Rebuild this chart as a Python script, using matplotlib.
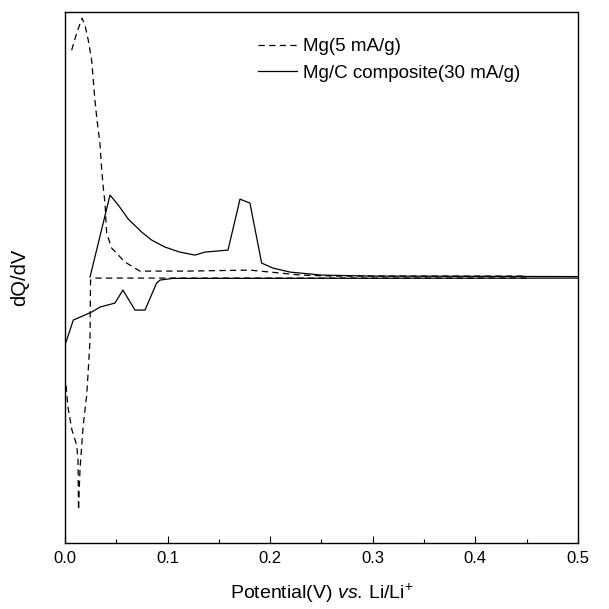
import numpy as np
import matplotlib.pyplot as plt
from matplotlib.ticker import MultipleLocator

plt.rcParams['font.family'] = ['Liberation Sans', 'DejaVu Sans']
plt.rcParams['mathtext.fontset'] = 'custom'
plt.rcParams['mathtext.rm'] = 'Liberation Sans'
plt.rcParams['mathtext.it'] = 'Liberation Sans:italic'

# Mg (5 mA/g), dashed: charge branch (above zero) and discharge branch (below)
mg_chg_x = [0.0065, 0.0114, 0.0166, 0.0195, 0.0227, 0.026, 0.0276, 0.0292, 0.0312,
            0.0341, 0.0358, 0.0373, 0.039, 0.0406, 0.0455, 0.0585, 0.073,
            0.12, 0.18, 0.20, 0.23, 0.26, 0.45]
mg_chg_y = [227, 244, 259, 252, 237, 217, 197, 177, 157,
            134, 107, 90, 74, 44, 29, 15, 6,
            6, 7, 5, 2, 1, 1]
mg_dis_x = [0.45, 0.03, 0.0249, 0.0244, 0.0224, 0.0212, 0.0178, 0.0162, 0.0146,
            0.0132, 0.0127, 0.0114, 0.0068, 0.0029, 0.001]
mg_dis_y = [-1, -1, -3, -63, -98, -118, -148, -170, -193,
            -233, -183, -168, -153, -130, -108]

# Mg/C composite (30 mA/g), solid
mc_chg_x = [0.0244, 0.0439, 0.052, 0.0617, 0.0748, 0.0845, 0.0975, 0.112, 0.1267,
            0.1365, 0.1589, 0.1706, 0.1803, 0.1917, 0.2027, 0.2193, 0.25, 0.30, 0.50]
mc_chg_y = [0, 82, 72, 58, 45, 37, 30, 25, 22,
            25, 27, 78, 74, 14, 9, 5, 2, 1, 0.5]
mc_dis_x = [0.50, 0.105, 0.0926, 0.0893, 0.078, 0.0682, 0.0565, 0.0487, 0.0341,
            0.026, 0.0081, 0.001]
mc_dis_y = [-1, -1.3, -3, -6, -33, -33, -13, -26, -30,
            -35, -43, -65]

fig = plt.figure(figsize=(6.09, 6.09), dpi=100)
ax = fig.add_axes([0.1067, 0.1084, 0.8423, 0.8716])

dash = (0, (5, 3.5))
l1, = ax.plot(mg_chg_x, mg_chg_y, color='k', lw=0.9, ls=dash)
ax.plot(mg_dis_x, mg_dis_y, color='k', lw=0.9, ls=dash)
l2, = ax.plot(mc_chg_x, mc_chg_y, color='k', lw=0.9)
ax.plot(mc_dis_x, mc_dis_y, color='k', lw=0.9)

ax.set_xlim(0, 0.5)
ax.set_ylim(-266, 265)
ax.xaxis.set_major_locator(MultipleLocator(0.1))
ax.xaxis.set_minor_locator(MultipleLocator(0.05))
ax.xaxis.set_major_formatter(plt.FormatStrFormatter('%.1f'))
ax.tick_params(axis='x', which='major', direction='in', length=5, width=0.8,
               labelsize=12, pad=6)
ax.tick_params(axis='x', which='minor', direction='in', length=3, width=0.8)
ax.set_yticks([])
for s in ax.spines.values():
    s.set_linewidth(1.0)

ax.set_xlabel(r'Potential(V) $\mathit{vs.}\,$Li/Li$^{+}$', fontsize=14, labelpad=11)
ax.set_ylabel('dQ/dV', fontsize=14.5, labelpad=26)

ax.legend([l1, l2], ['Mg(5 mA/g)', 'Mg/C composite(30 mA/g)'],
          loc='upper left', bbox_to_anchor=(0.376, 0.951), frameon=False,
          fontsize=13.5, handlelength=2.1, handletextpad=0.3, labelspacing=0.5,
          borderpad=0, borderaxespad=0)

fig.savefig('out.png', dpi=100)
